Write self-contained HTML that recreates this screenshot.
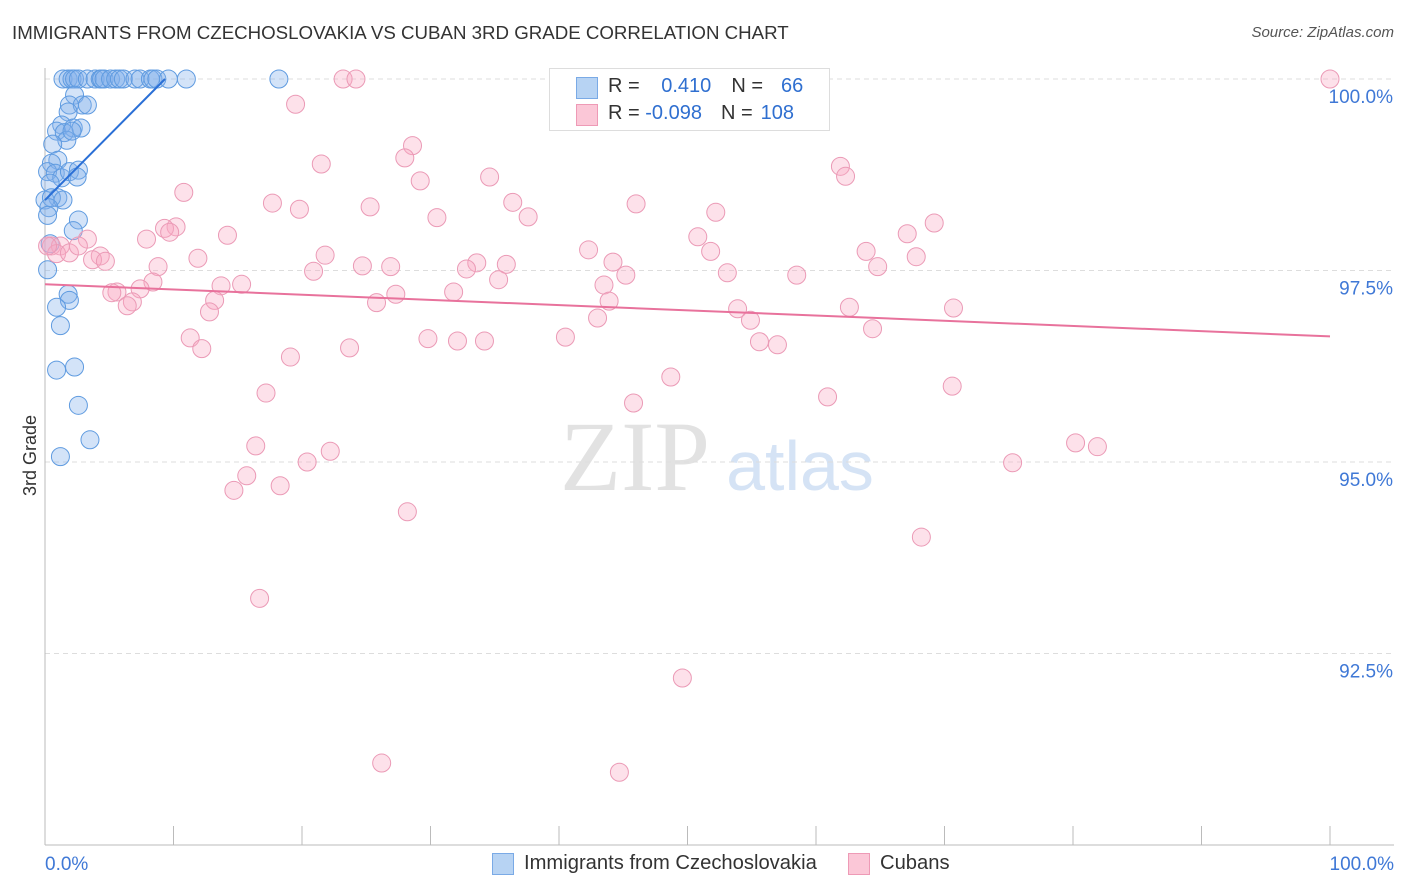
<!DOCTYPE html>
<html><head><meta charset="utf-8"><style>
body{margin:0;background:#fff;font-family:"Liberation Sans",sans-serif;}
#wrap{position:relative;width:1406px;height:892px;overflow:hidden;}
.t{position:absolute;white-space:nowrap;}
</style></head><body>
<div id="wrap">
<div class="t" style="left:12px;top:22px;font-size:18.7px;color:#333;">IMMIGRANTS FROM CZECHOSLOVAKIA VS CUBAN 3RD GRADE CORRELATION CHART</div>
<div class="t" style="right:12px;top:24px;font-size:15px;color:#555;font-style:italic;">Source: ZipAtlas.com</div>
<svg id="plot" width="1406" height="892" style="position:absolute;left:0;top:0">
<text x="635" y="490" text-anchor="middle" font-family="Liberation Serif,serif" font-size="100" fill="#e2e2e2">ZIP</text>
<text x="800" y="490" text-anchor="middle" font-family="Liberation Sans,sans-serif" font-size="70" fill="#d5e3f5">atlas</text>
<g id="grid"></g><g id="axes"></g><g id="pts"></g><g id="trend"></g>
</svg>
<div style="position:absolute;left:549px;top:68px;width:279px;height:61px;border:1px solid #ddd;background:#fff;font-size:20px;color:#333;">
<div style="position:absolute;left:26px;top:8px;width:20px;height:20px;background:#b7d3f3;border:1px solid #7aaae6;"></div>
<div style="position:absolute;left:26px;top:35px;width:20px;height:20px;background:#fbc7d7;border:1px solid #ee9ab6;"></div>
<div class="t" style="left:58px;top:6px;">R = <span style="color:#2f6fd0;margin-left:16px">0.410</span><span style="margin-left:20px">N =</span><span style="color:#2f6fd0;margin-left:18px">66</span></div>
<div class="t" style="left:58px;top:33px;">R = <span style="color:#2f6fd0">-0.098</span><span style="margin-left:19px">N =</span><span style="color:#2f6fd0;margin-left:8px">108</span></div>
</div>
<div style="position:absolute;left:492px;top:853px;width:20px;height:20px;background:#b7d3f3;border:1px solid #7aaae6;"></div>
<div class="t" style="left:524px;top:852px;font-size:20.2px;color:#333;">Immigrants from Czechoslovakia</div>
<div style="position:absolute;left:848px;top:853px;width:20px;height:20px;background:#fbc7d7;border:1px solid #ee9ab6;"></div>
<div class="t" style="left:880px;top:852px;font-size:20.2px;color:#333;">Cubans</div>
<div class="t" style="left:-10px;top:445px;font-size:18px;color:#333;transform:rotate(-90deg);">3rd Grade</div>
</div>
<script>
const yTicks=[100,97.5,95,92.5];
const yTickLabels=["100.0%","97.5%","95.0%","92.5%"];
const xTickLabels=["0.0%","100.0%"];
const blueX=[1.4,1.8,2.1,2.3,2.6,3.3,3.9,4.3,4.4,4.6,5.1,5.5,5.8,6.1,7.0,7.4,8.2,8.4,8.7,9.6,11.0,18.2,2.3,1.9,2.9,3.3,1.8,1.3,0.9,2.2,2.8,1.5,1.7,0.6,2.1,1.0,0.5,0.2,0.8,1.3,1.9,2.6,2.5,0.4,1.0,0.0,0.5,1.4,0.3,0.2,2.6,2.2,0.4,0.2,1.8,1.9,0.9,1.2,0.9,2.3,2.6,3.5,1.2];
const blueY=[100,100,100,100,100,100,100,100,100,100,100,100,100,100,100,100,100,100,100,100,100,100,99.79,99.66,99.66,99.66,99.57,99.40,99.32,99.36,99.36,99.30,99.20,99.15,99.32,98.94,98.90,98.79,98.77,98.71,98.79,98.81,98.72,98.64,98.45,98.42,98.45,98.42,98.32,98.22,98.16,98.02,97.85,97.51,97.19,97.11,97.02,96.78,96.20,96.24,95.74,95.29,95.07];
const pinkX=[100,23.2,24.2,19.5,28.6,28.0,21.5,61.9,62.3,34.6,29.2,10.8,36.4,17.7,19.8,25.3,46.0,52.2,30.5,37.6,69.2,10.2,9.3,9.7,14.2,7.9,3.3,50.8,67.1,42.3,51.8,63.9,67.8,0.5,1.2,0.9,1.9,2.6,4.3,3.7,4.7,11.9,21.8,0.2,44.2,35.9,33.6,32.8,24.7,26.9,20.9,8.8,64.8,58.5,53.1,45.2,35.3,43.5,8.4,15.3,13.7,7.4,5.6,5.2,27.3,31.8,13.2,6.8,6.4,43.9,25.8,53.9,12.8,62.6,70.7,43.0,54.9,11.3,29.8,32.1,34.2,40.5,55.6,57.0,64.4,12.2,23.7,19.1,48.7,70.6,17.2,60.9,45.8,16.4,22.2,80.2,81.9,20.4,75.3,15.7,14.7,18.3,28.2,68.2,16.7,49.6,26.2,44.7];
const pinkY=[100,100,100,99.67,99.13,98.97,98.89,98.86,98.73,98.72,98.67,98.52,98.39,98.38,98.30,98.33,98.37,98.26,98.19,98.20,98.12,98.07,98.05,98.00,97.96,97.91,97.91,97.94,97.98,97.77,97.75,97.75,97.68,97.82,97.82,97.72,97.73,97.82,97.69,97.64,97.62,97.66,97.70,97.82,97.61,97.58,97.60,97.52,97.56,97.55,97.49,97.55,97.55,97.44,97.47,97.44,97.38,97.31,97.35,97.32,97.30,97.26,97.22,97.21,97.19,97.22,97.11,97.09,97.04,97.10,97.08,97.00,96.96,97.02,97.01,96.88,96.85,96.62,96.61,96.58,96.58,96.63,96.57,96.53,96.74,96.48,96.49,96.37,96.11,95.99,95.90,95.85,95.77,95.21,95.14,95.25,95.20,95.00,94.99,94.82,94.63,94.69,94.35,94.02,93.22,92.18,91.07,90.95];
const blueTrend=[[0,98.42],[9.34,100]];
const pinkTrend=[[0,97.32],[100,96.64]];
const NS="http://www.w3.org/2000/svg";
const sx=v=>45+v*12.85;
const sy=v=>79+(100-v)*76.6;
function mk(tag,attrs,parent){const e=document.createElementNS(NS,tag);for(const k in attrs)e.setAttribute(k,attrs[k]);document.getElementById(parent).appendChild(e);return e;}
yTicks.forEach((t,i)=>{
 const g=mk('line',{x1:45,x2:1394,y1:sy(t),y2:sy(t),stroke:'#ddd','stroke-dasharray':'5,4'},'grid');
 
 
 const l=mk('text',{x:1393,y:sy(t)+24,'text-anchor':'end','font-size':19,fill:'#3f78d6','font-family':'Liberation Sans,sans-serif'},'axes');
 l.textContent=yTickLabels[i];
 
 
});
mk('line',{x1:45,x2:45,y1:68,y2:845,stroke:'#bbb'},'axes');
mk('line',{x1:45,x2:1394,y1:845,y2:845,stroke:'#bbb'},'axes');
for(let i=0;i<=10;i++){mk('line',{x1:sx(i*10),x2:sx(i*10),y1:826,y2:845,stroke:'#bbb'},'axes');}
[[0,'start',45],[1,'end',1394]].forEach(([i,a,x])=>{const l=mk('text',{x:x,y:870,'text-anchor':a,'font-size':19,fill:'#3f78d6','font-family':'Liberation Sans,sans-serif'},'axes');l.textContent=xTickLabels[i];
 
 });
blueX.forEach((x,i)=>{const c=mk('circle',{cx:sx(x),cy:sy(blueY[i]),r:9,fill:'rgba(130,175,235,0.35)',stroke:'#5f9be0','stroke-width':1},'pts');
 
 });
pinkX.forEach((x,i)=>{const c=mk('circle',{cx:sx(x),cy:sy(pinkY[i]),r:9,fill:'rgba(248,170,195,0.35)',stroke:'#eb9ab6','stroke-width':1},'pts');
 
 });
const bt=mk('line',{x1:sx(blueTrend[0][0]),y1:sy(blueTrend[0][1]),x2:sx(blueTrend[1][0]),y2:sy(blueTrend[1][1]),stroke:'#2a6fd6','stroke-width':2},'trend');


const pt=mk('line',{x1:sx(pinkTrend[0][0]),y1:sy(pinkTrend[0][1]),x2:sx(pinkTrend[1][0]),y2:sy(pinkTrend[1][1]),stroke:'#e8729c','stroke-width':2},'trend');


</script>
</body></html>
